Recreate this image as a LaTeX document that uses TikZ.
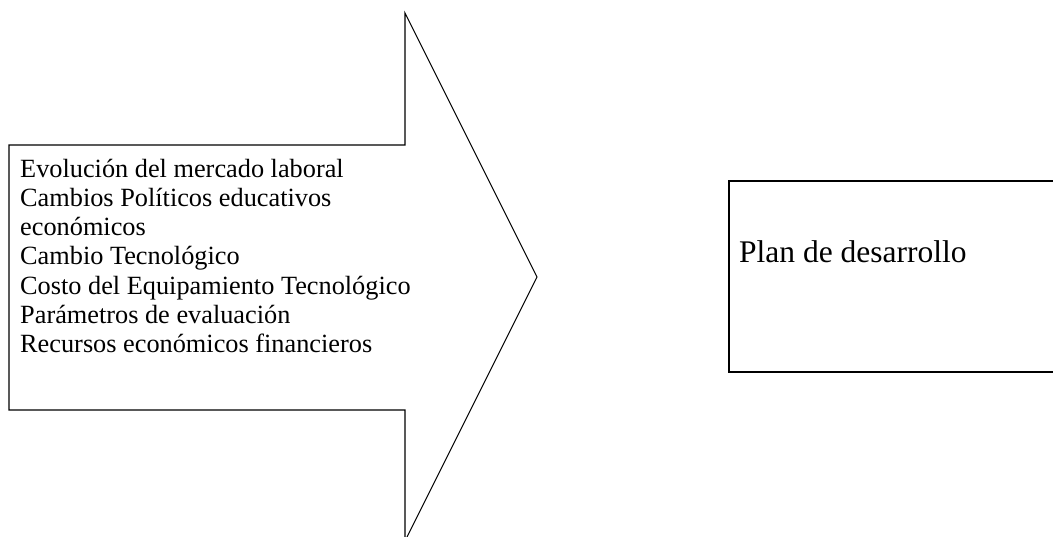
\documentclass[tikz,border=0pt]{standalone}
\usepackage{fontspec}
\setmainfont{Liberation Serif}
\begin{document}
\begin{tikzpicture}[x=1pt,y=-1pt,
  outline/.style={draw=black,line width=1.1pt,line join=miter},
  listline/.style={anchor=base west,inner sep=0pt,font=\fontsize{26.3}{29.2}\selectfont},
  plantext/.style={anchor=base west,inner sep=0pt,font=\fontsize{31.5}{36}\selectfont}]
\useasboundingbox (0,0) rectangle (1053,536);
\clip (0,0) rectangle (1053,536);
% big arrow
\draw[outline] (9,145) -- (405,145) -- (405,13) -- (537,277) -- (405,541) -- (405,410) -- (9,410) -- cycle;
\node[listline] (l1) at (20,177.3) {Evolución del mercado laboral};
\node[listline] (l2) at (20,206.5) {Cambios Políticos educativos};
\node[listline] (l3) at (20,235.6) {económicos};
\node[listline] (l4) at (20,264.8) {Cambio Tecnológico};
\node[listline] (l5) at (20,294.0) {Costo del Equipamiento Tecnológico};
\node[listline] (l6) at (20,323.1) {Parámetros de evaluación};
\node[listline] (l7) at (20,352.3) {Recursos económicos financieros};
% plan box
\draw[outline] (1060,181) -- (729,181) -- (729,372) -- (1060,372);
\node[plantext] (plan) at (739,262) {Plan de desarrollo};
\end{tikzpicture}
\end{document}
